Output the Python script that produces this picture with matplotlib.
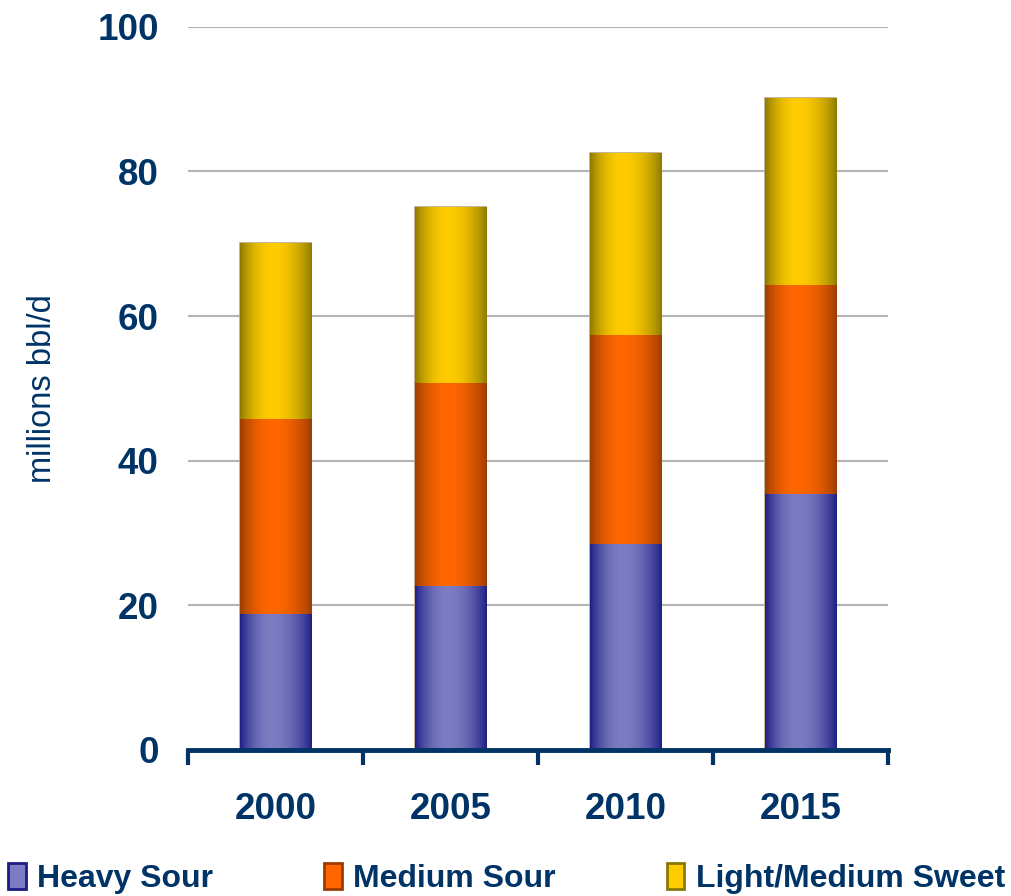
import numpy as np
import matplotlib
matplotlib.use("Agg")
import matplotlib.pyplot as plt
from matplotlib.colors import to_rgb
from matplotlib.patches import Patch

# data
years = ["2000", "2005", "2010", "2015"]
heavy_sour = [18.8, 22.7, 28.5, 35.4]
medium_sour = [27.0, 28.1, 28.9, 28.9]
light_sweet = [24.3, 24.3, 25.2, 25.9]
series_names = ["Heavy Sour", "Medium Sour", "Light/Medium Sweet"]

navy = "#003366"
# (edge colour, middle colour) for the cylinder-ish shading
shades = [("#1c1c82", "#7c7cc2"), ("#9a3c00", "#ff6600"), ("#8a7800", "#ffcc00")]

plt.rcParams['font.family'] = ['Liberation Sans', 'DejaVu Sans']

fig = plt.figure(figsize=(10.12, 8.96), dpi=100)
ax = fig.add_axes([0.1858, 0.163, 0.6917, 0.807])


def gradient(edge, mid, n=200):
    t = np.linspace(0, 1, n)
    # bright band a bit left of centre, dark at both sides
    w = np.where(t < 0.45, t / 0.45, (1 - t) / 0.55)
    w = np.sin(w * np.pi / 2) ** 0.8
    e = np.array(to_rgb(edge))
    m = np.array(to_rgb(mid))
    return (e[None, :] * (1 - w[:, None]) + m[None, :] * w[:, None])[None, :, :]


x = np.arange(len(years))
bottom = np.zeros(len(years))
for vals, (edge, mid) in zip([heavy_sour, medium_sour, light_sweet], shades):
    bars = ax.bar(x, vals, width=0.41, bottom=bottom, color=mid,
                  edgecolor="#b8a888", linewidth=1.2, zorder=3)
    img = gradient(edge, mid)
    for b in bars:
        x0, y0 = b.get_x(), b.get_y()
        im = ax.imshow(img, extent=[x0, x0 + b.get_width(), y0, y0 + b.get_height()],
                       aspect="auto", zorder=3.5, interpolation="bilinear")
        im.set_clip_path(b)
    bottom += np.array(vals)

ax.set_xlim(-0.5, 3.5)
ax.set_ylim(0, 100)
ax.set_yticks([0, 20, 40, 60, 80, 100])
ax.yaxis.grid(True, color="#b4b4b4", linewidth=1.5, zorder=0)
ax.set_axisbelow(True)

ax.set_xticks(np.arange(-0.5, 4, 1))
ax.set_xticklabels([])
ax.set_xticks(x, minor=True)
ax.set_xticklabels(years, minor=True)
ax.tick_params(axis="x", which="major", length=11, width=3, color=navy, direction="out")
ax.tick_params(axis="x", which="minor", length=0, pad=30, labelsize=26.5, labelcolor=navy)
ax.tick_params(axis="y", length=0, pad=21, labelsize=26.5, labelcolor=navy)
for lab in ax.get_xticklabels(minor=True) + ax.get_yticklabels():
    lab.set_fontweight("bold")

for s in ["top", "right", "left"]:
    ax.spines[s].set_visible(False)
ax.spines["bottom"].set_color(navy)
ax.spines["bottom"].set_linewidth(3.5)
ax.spines["bottom"].set_zorder(5)

ax.set_ylabel("millions bbl/d", fontsize=23.5, color=navy, labelpad=28)

handles = [Patch(facecolor=mid, edgecolor=edge, linewidth=2) for edge, mid in shades]
leg = fig.legend(handles, series_names, loc="lower left", bbox_to_anchor=(0.008, 0.002, 0.985, 0.04),
                 ncol=3, mode="expand", frameon=False, handlelength=0.55, handleheight=0.9,
                 handletextpad=0.35, borderaxespad=0.0, borderpad=0.0,
                 prop={"size": 23, "weight": "bold"})
for t in leg.get_texts():
    t.set_color(navy)

fig.savefig("out.png", dpi=100)
